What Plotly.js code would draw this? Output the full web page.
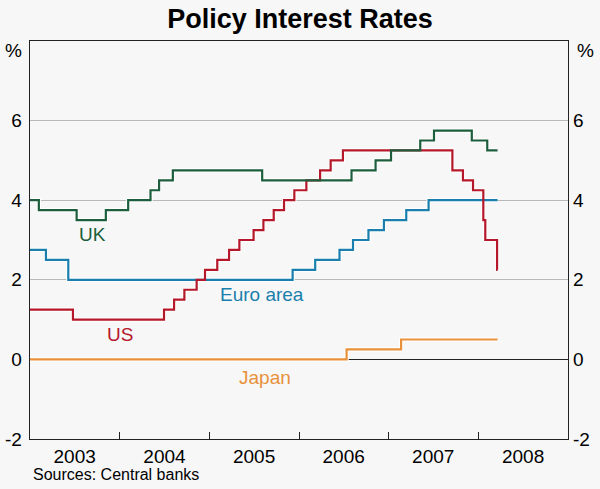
<!DOCTYPE html>
<html>
<head>
<meta charset="utf-8">
<script src="https://cdn.plot.ly/plotly-3.0.1.min.js"></script>
<style>html,body{margin:0;padding:0;background:#f7f7f7;}#chart{width:600px;height:489px;}</style>
</head>
<body>
<div id="chart"></div>
<script>
// Policy rates (step changes), %
var ukDates = ["2003-01-01","2003-02-06","2003-07-10","2003-11-06","2004-02-05","2004-05-06","2004-06-10","2004-08-05","2005-08-04","2006-08-03","2006-11-09","2007-01-11","2007-05-10","2007-07-05","2007-12-06","2008-02-07","2008-03-20"];
var ukRates = [4.0,3.75,3.5,3.75,4.0,4.25,4.5,4.75,4.5,4.75,5.0,5.25,5.5,5.75,5.5,5.25,5.25];

var euroDates = ["2003-01-01","2003-03-07","2003-06-06","2005-12-06","2006-03-08","2006-06-15","2006-08-09","2006-10-11","2006-12-13","2007-03-14","2007-06-13","2008-03-20"];
var euroRates = [2.75,2.5,2.0,2.25,2.5,2.75,3.0,3.25,3.5,3.75,4.0,4.0];

var usDates = ["2003-01-01","2003-06-25","2004-06-30","2004-08-10","2004-09-21","2004-11-10","2004-12-14","2005-02-02","2005-03-22","2005-05-03","2005-06-30","2005-08-09","2005-09-20","2005-11-01","2005-12-13","2006-01-31","2006-03-28","2006-05-10","2006-06-29","2007-09-18","2007-10-31","2007-12-11","2008-01-22","2008-01-30","2008-03-18","2008-03-20"];
var usRates = [1.25,1.0,1.25,1.5,1.75,2.0,2.25,2.5,2.75,3.0,3.25,3.5,3.75,4.0,4.25,4.5,4.75,5.0,5.25,4.75,4.5,4.25,3.5,3.0,2.25,2.25];

var japanDates = ["2003-01-01","2006-07-14","2007-02-21","2008-03-20"];
var japanRates = [0,0.25,0.5,0.5];

var yearTicks = ["2004-01-01","2005-01-01","2006-01-01","2007-01-01","2008-01-01"];
var yearLabelPos = ["2003-07-02","2004-07-02","2005-07-02","2006-07-02","2007-07-02","2008-07-02"];
var yearLabels = ["2003","2004","2005","2006","2007","2008"];
var yTicks = [-2,0,2,4,6];
var yTickLabels = ["-2","0","2","4","6"];

var FONT = "Arial, 'Liberation Sans', sans-serif";
var series = [
  {x: japanDates, y: japanRates, c: "#e8913a"},
  {x: euroDates, y: euroRates, c: "#1a7fad"},
  {x: usDates, y: usRates, c: "#b5182b"},
  {x: ukDates, y: ukRates, c: "#1d5e3c"}
];
var traces = [];
series.forEach(function(s){
  traces.push({x: s.x, y: s.y, type: "scatter", mode: "lines", line: {shape: "hv", color: "#ffffff", width: 4.2}, hoverinfo: "skip", showlegend: false});
});
series.forEach(function(s){
  traces.push({x: s.x, y: s.y, type: "scatter", mode: "lines", line: {shape: "hv", color: s.c, width: 2.2}, showlegend: false});
});
traces.push({x: ["2003-01-01"], y: [0], xaxis: "x2", yaxis: "y2", type: "scatter", mode: "markers", marker: {opacity: 0}, hoverinfo: "skip", showlegend: false});

var xr = ["2003-01-01","2009-01-01"];
var layout = {
  width: 600, height: 489,
  margin: {l: 30, r: 32, t: 41, b: 50},
  paper_bgcolor: "#f7f7f7", plot_bgcolor: "#f7f7f7",
  font: {family: FONT, size: 19, color: "#000"},
  title: {text: "<b>Policy Interest Rates</b>", font: {family: FONT, size: 27, color: "#000"}, x: 0.5, xanchor: "center", y: 0.963, yanchor: "middle", yref: "container"},
  xaxis: {type: "date", range: xr, tickmode: "array", tickvals: yearLabelPos, ticktext: yearLabels, ticks: "", showgrid: false, zeroline: false, showline: true, mirror: true, linecolor: "#222", linewidth: 1.3, tickfont: {size: 19}, fixedrange: true},
  xaxis2: {type: "date", range: xr, overlaying: "x", anchor: "y", side: "bottom", tickmode: "array", tickvals: yearTicks, ticks: "inside", ticklen: 7, tickwidth: 1, tickcolor: "#222", showticklabels: false, showgrid: false, zeroline: false, showline: false},
  yaxis: {range: [-2, 8], tickmode: "array", tickvals: yTicks, ticktext: yTickLabels, ticks: "", ticklabelstandoff: 3, showgrid: true, gridcolor: "#b8b8b8", gridwidth: 1, zeroline: true, zerolinecolor: "#222", zerolinewidth: 1.3, showline: true, mirror: true, linecolor: "#222", linewidth: 1.3, tickfont: {size: 19}},
  yaxis2: {range: [-2, 8], overlaying: "y", side: "right", anchor: "x", tickmode: "array", tickvals: yTicks, ticktext: yTickLabels, ticks: "", ticklabelstandoff: 4, showgrid: false, zeroline: false, showline: false, tickfont: {size: 19}},
  annotations: [
    {text: "%", xref: "paper", yref: "paper", x: 0, y: 0.977, xanchor: "right", yanchor: "middle", xshift: -6, showarrow: false, font: {size: 19}},
    {text: "%", xref: "paper", yref: "paper", x: 1, y: 0.977, xanchor: "left", yanchor: "middle", xshift: 7, showarrow: false, font: {size: 19}},
    {text: "UK", xref: "x", yref: "y", x: "2003-09-14", y: 3.14, showarrow: false, font: {size: 19, color: "#1d5e3c"}},
    {text: "Euro area", xref: "x", yref: "y", x: "2005-08-03", y: 1.62, showarrow: false, font: {size: 19, color: "#1a7fad"}},
    {text: "US", xref: "x", yref: "y", x: "2004-01-04", y: 0.62, showarrow: false, font: {size: 19, color: "#b5182b"}},
    {text: "Japan", xref: "x", yref: "y", x: "2005-08-14", y: -0.45, showarrow: false, font: {size: 19, color: "#e8913a"}},
    {text: "Sources: Central banks", xref: "paper", yref: "paper", x: 0, y: -0.09, xanchor: "left", yanchor: "middle", showarrow: false, xshift: 1, yshift: 0, font: {size: 16}}
  ]
};
Plotly.newPlot("chart", traces, layout, {displayModeBar: false, staticPlot: true});
</script>
</body>
</html>
